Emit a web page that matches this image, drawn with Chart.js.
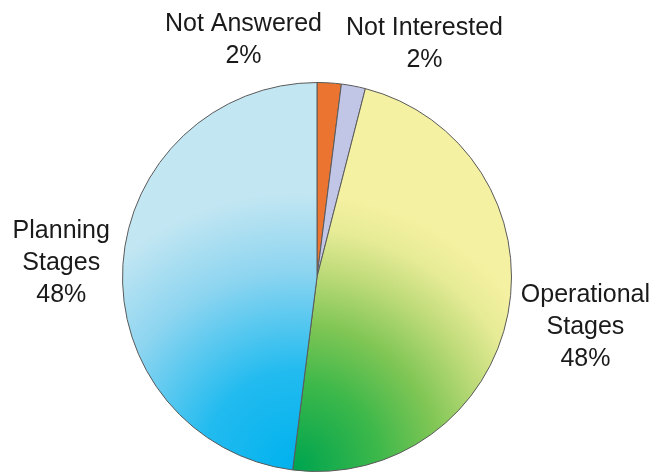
<!DOCTYPE html>
<html>
<head>
<meta charset="utf-8">
<script src="https://cdn.jsdelivr.net/npm/chart.js@4"></script>
<style>
  html, body { margin: 0; padding: 0; background: #fff; }
  #wrap { width: 653px; height: 472px; }
</style>
</head>
<body>
<div id="wrap"><canvas id="pieChart"></canvas></div>
<script>
// data
const categories = ["Not Answered", "Not Interested", "Operational Stages", "Planning Stages"];
const labelLines = [["Not Answered"], ["Not Interested"], ["Operational", "Stages"], ["Planning", "Stages"]];
const shares = [2, 2, 48, 48];

// gradient stops for the two big slices (inner -> outer)
const greenStops = [[0, "#00a54f"], [0.3, "#3db84a"], [0.52, "#80c655"], [0.72, "#bfdb7a"], [0.87, "#e6eb95"], [1, "#f5f1a2"]];
const blueStops = [[0, "#00b2ee"], [0.35, "#22bbef"], [0.72, "#8ed5f0"], [1, "#c2e6f2"]];
const flatColors = ["#ea7430", "#c1c6e6"];

function sliceFill(context) {
  const chart = context.chart;
  const area = chart.chartArea;
  const i = context.dataIndex;
  if (i < 2) return flatColors[i];
  if (!area) return i === 2 ? "#c6de80" : "#8ed5f0";
  const cx = (area.left + area.right) / 2;
  const cy = (area.top + area.bottom) / 2;
  const r = Math.min(area.right - area.left, area.bottom - area.top) / 2;
  const g = chart.ctx.createRadialGradient(cx - 0.1 * r, cy + 0.97 * r, 0, cx - 0.1 * r, cy + 0.97 * r, 1.4 * r);
  (i === 2 ? greenStops : blueStops).forEach(s => g.addColorStop(s[0], s[1]));
  return g;
}

const outsideLabels = {
  id: "outsideLabels",
  afterDatasetsDraw(chart) {
    const ctx = chart.ctx;
    const meta = chart.getDatasetMeta(0);
    const total = shares.reduce((a, b) => a + b, 0);
    const lh = 32;
    const gap = 13;
    ctx.save();
    ctx.font = '25px "Liberation Sans", Arial, sans-serif';
    ctx.fillStyle = "#1a1a1a";
    ctx.textAlign = "center";
    ctx.textBaseline = "middle";

    const items = meta.data.map((arc, i) => {
      const p = arc.getProps(["x", "y", "startAngle", "endAngle", "outerRadius"], true);
      const mid = (p.startAngle + p.endAngle) / 2;
      const lines = labelLines[i].concat([Math.round(shares[i] / total * 100) + "%"]);
      return {
        mid: mid,
        ax: p.x + Math.cos(mid) * (p.outerRadius + gap),
        ay: p.y + Math.sin(mid) * (p.outerRadius + gap),
        lines: lines,
        w: Math.max(...lines.map(t => ctx.measureText(t).width)),
        h: lines.length * lh,
        side: Math.cos(mid) >= 0 ? 1 : -1
      };
    });

    // small slices at the top: split them to both sides of their shared gap
    const top = items.filter(it => Math.sin(it.mid) < -0.9);
    if (top.length === 2) {
      const split = (top[0].ax + top[1].ax) / 2 - 9;
      top[0].side = -1; top[0].ax = split - 12;
      top[1].side = 1; top[1].ax = split + 12;
    }

    items.forEach(it => {
      const bx = it.ax + it.side * it.w / 2;
      const by = it.ay + Math.sin(it.mid) * it.h / 2 + 2;
      it.lines.forEach((t, k) => {
        ctx.fillText(t, bx, by - (it.lines.length - 1) * lh / 2 + k * lh);
      });
    });
    ctx.restore();
  }
};

new Chart(document.getElementById("pieChart").getContext("2d"), {
  type: "pie",
  data: {
    labels: categories,
    datasets: [{
      data: shares,
      backgroundColor: sliceFill,
      borderColor: "#5a5a5a",
      borderWidth: 1
    }]
  },
  options: {
    responsive: true,
    maintainAspectRatio: false,
    animation: false,
    layout: { padding: { top: 82, bottom: -2, left: 121, right: 140 } },
    plugins: {
      legend: { display: false },
      tooltip: { enabled: false }
    }
  },
  plugins: [outsideLabels]
});
</script>
</body>
</html>
